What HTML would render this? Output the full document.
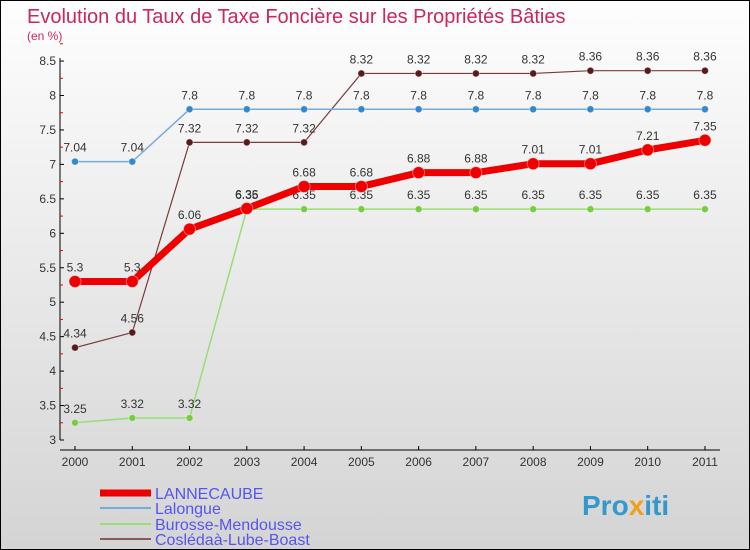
<!DOCTYPE html>
<html><head><meta charset="utf-8">
<style>
body{margin:0;width:750px;height:550px;overflow:hidden;font-family:"Liberation Sans",sans-serif;}
svg{display:block}
</style></head>
<body>
<svg id="chart" width="750" height="550">
<defs><linearGradient id="bg" x1="0" y1="0" x2="0" y2="1"><stop offset="0" stop-color="#fefefe"/><stop offset="1" stop-color="#d4d4d4"/></linearGradient></defs>
<rect x="0.5" y="0.5" width="749" height="549" fill="url(#bg)" stroke="#000"/>
<text x="27" y="23" font-size="20" fill="#c8285a">Evolution du Taux de Taxe Foncière sur les Propriétés Bâties</text>
<text x="27" y="40" font-size="12" fill="#c8285a">(en %)</text>
<g id="axes"></g><g id="series"></g><g id="legend"></g>
<text x="582" y="515" font-size="28" font-weight="bold" fill="#3399cc">Pro<tspan fill="#f0a020">x</tspan>iti</text>
</svg>
<script>
const years=[2000,2001,2002,2003,2004,2005,2006,2007,2008,2009,2010,2011];
const yTicks=[3,3.5,4,4.5,5,5.5,6,6.5,7,7.5,8,8.5];
const lannecaube=[5.3,5.3,6.06,6.36,6.68,6.68,6.88,6.88,7.01,7.01,7.21,7.35];
const lalongue=[7.04,7.04,7.8,7.8,7.8,7.8,7.8,7.8,7.8,7.8,7.8,7.8];
const burosse=[3.25,3.32,3.32,6.35,6.35,6.35,6.35,6.35,6.35,6.35,6.35,6.35];
const cosledaa=[4.34,4.56,7.32,7.32,7.32,8.32,8.32,8.32,8.32,8.36,8.36,8.36];
const NS="http://www.w3.org/2000/svg";
const xs=i=>75+i*57.27;
const ys=v=>440-(v-3)*68.9;
function mk(tag,attrs,parent,text){const e=document.createElementNS(NS,tag);for(const k in attrs)e.setAttribute(k,attrs[k]);if(text!==undefined)e.textContent=text;parent.appendChild(e);return e;}
const ax=document.getElementById('axes');
let a=mk('line',{x1:60,y1:58,x2:60,y2:440,stroke:'#000'},ax);


a=mk('line',{x1:60,y1:450,x2:720,y2:450,stroke:'#000'},ax);


yTicks.forEach(v=>{
  mk('line',{x1:60,y1:ys(v),x2:64,y2:ys(v),stroke:'#000'},ax);
  mk('line',{x1:60,y1:ys(v+0.25),x2:63,y2:ys(v+0.25),stroke:'#e00'},ax);
  const t=mk('text',{x:56,y:ys(v)+4,'font-size':12,'text-anchor':'end',fill:'#333'},ax,String(v));
  
  
});
years.forEach((y,i)=>{
  mk('line',{x1:xs(i),y1:446,x2:xs(i),y2:450,stroke:'#000'},ax);
  const t=mk('text',{x:xs(i),y:466,'font-size':12,'text-anchor':'middle',fill:'#333'},ax,String(y));
  
  
});
const sg=document.getElementById('series');
const defs=[
 {d:cosledaa,c:'#7a3a3a',dot:'#5a1a1a',w:1.2,r:3.5,name:'cosledaa'},
 {d:burosse,c:'#99dd77',dot:'#77cc44',w:1.5,r:3.5,name:'burosse'},
 {d:lalongue,c:'#7aaad8',dot:'#3388cc',w:1.5,r:3.5,name:'lalongue'},
 {d:lannecaube,c:'#ee0000',dot:'#ee0000',w:7,r:6,name:'lannecaube'}];
defs.forEach(s=>{
  const p=mk('polyline',{points:s.d.map((v,i)=>xs(i)+','+ys(v)).join(' '),fill:'none',stroke:s.c,'stroke-width':s.w},sg);
  
  
  s.d.forEach((v,i)=>{
    const c=mk('circle',{cx:xs(i),cy:ys(v),r:s.r,fill:s.dot,stroke:'#fff','stroke-opacity':0.4},sg);
    
    
    const t=mk('text',{x:xs(i),y:ys(v)-10,'font-size':12,'text-anchor':'middle',fill:'#333'},sg,String(v));
    
    
  });
});
const lg=document.getElementById('legend');
const leg=[['LANNECAUBE','#ee0000',7,493],['Lalongue','#7aaad8',2,508],['Burosse-Mendousse','#99dd77',2,524],['Coslédaà-Lube-Boast','#8a5a5a',2,539]];
leg.forEach(l=>{
  const ln=mk('line',{x1:100,y1:l[3],x2:151,y2:l[3],stroke:l[1],'stroke-width':l[2]},lg);
  
  
  const t=mk('text',{x:155,y:l[3]+6,'font-size':16,fill:'#5555ee'},lg,l[0]);
  
  
});
</script>
</body></html>
